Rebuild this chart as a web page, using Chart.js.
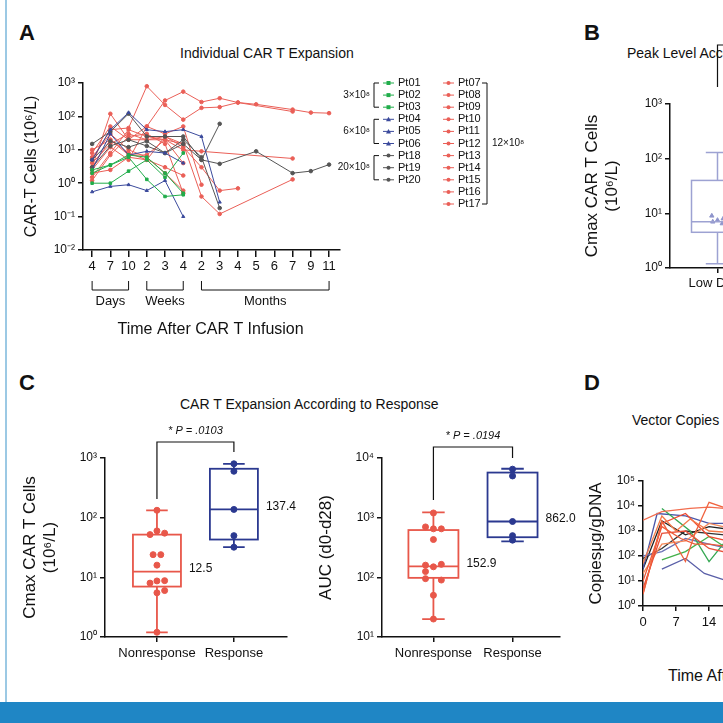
<!DOCTYPE html>
<html><head><meta charset="utf-8">
<script src="https://cdn.jsdelivr.net/npm/chart.js@4.4.0/dist/chart.umd.min.js"></script>
<style>
body{margin:0;width:723px;height:723px;overflow:hidden;background:#fff;position:relative;font-family:"Liberation Sans",Arial,sans-serif}
canvas{position:absolute}
.t{position:absolute;white-space:nowrap;color:#111}
.L{font-weight:bold;font-size:22px}
</style></head><body>
<div style="position:absolute;left:5px;top:0;width:2px;height:702px;background:#9cc9e4"></div>
<div style="position:absolute;left:0;top:702px;width:723px;height:21px;background:#1f86c5"></div>
<div class="t L" style="left:19px;top:20px">A</div>
<div class="t L" style="left:584px;top:20px">B</div>
<div class="t L" style="left:19px;top:370px">C</div>
<div class="t L" style="left:584px;top:370px">D</div>
<div class="t" style="left:180px;top:45px;font-size:14px">Individual CAR T Expansion</div>
<div class="t" style="left:627px;top:45px;font-size:14px">Peak Level According to Dose</div>
<div class="t" style="left:180px;top:396px;font-size:14px">CAR T Expansion According to Response</div>
<div class="t" style="left:632px;top:412px;font-size:14px">Vector Copies Over Time</div>
<div class="t" style="left:668px;top:667px;font-size:16px">Time After CAR T Infusion (days)</div>
<canvas id="a" style="left:0;top:60px" width="560" height="290"></canvas>
<canvas id="b" style="left:560px;top:40px" width="400" height="260"></canvas>
<canvas id="d" style="left:560px;top:460px" width="300" height="240"></canvas>
<canvas id="c1" style="left:0;top:410px" width="330" height="280"></canvas>
<canvas id="c2" style="left:300px;top:410px" width="300" height="280"></canvas>
<script>
// ---------- DATA ----------
const timeLabels=['4','7','10','2','3','4','2','3','4','5','6','7','9','11'];
const ptNames=['Pt01','Pt02','Pt03','Pt04','Pt05','Pt06','Pt18','Pt19','Pt20','Pt07','Pt08','Pt09','Pt10','Pt11','Pt12','Pt13','Pt14','Pt15','Pt16','Pt17'];
const ptGroup=['g','g','g','b','b','b','k','k','k','r','r','r','r','r','r','r','r','r','r','r'];
const N=null;
const ptValues=[
[2.5,3.5,7,6,2,0.5],
[1,1,2.3,5,1.5,8],
[2,3.5,6,1.3,0.4,0.45],
[0.55,0.8,0.9,0.6,1.2,0.1],
[5,40,130,40,35,40,25,0.27],
[2.5,30,7,9,8,4],
[15,35,120,25,25,25,5,3.8,N,9,N,2,2.3,3.6],
[5,18,12,18,8,20,6,0.18],
[3,13,20,13,8,15,5,60],
[5,40,45,800,220,80,180,190,260,230,N,160,130,125],
[8,50,20,50,300,550,270,350,260,N,N,140],
[3,120,20,20,25,12,3,0.6,0.7],
[1.5,8,40,25,20,15,0.4,0.12,N,N,N,1.3],
[6,30,10,6,2,0.6],
[2,2.5,6,5,3,1.7],
[4,15,30,20,20,10,9,N,N,N,N,5.5],
[10,20,7,7,20,4],
[1.2,7,25,30,15,0.5],
[3,20,8,5,25,15],
[2.5,12,5,50,30,50,0.9]
];
const respCats=['Nonresponse','Response'];
const cmaxNon=[52,60,55,24,24,16,8,8.7,8.8,5.5,6,133,1.2];
const cmaxNonJit=[-0.09,0,0.1,-0.05,0.05,0,-0.09,0,0.1,0,0.1,0,0];
const cmaxResp=[800,600,137.4,50,32];
const cmaxBox=[[1.2,7,12.5,52,133],[32,43,137.4,660,800]];
const aucNon=[700,650,650,430,160,150,165,125,95,90,50,1200,20];
const aucNonJit=[-0.1,0,0.1,0,-0.1,0,0.1,-0.1,-0.1,0.1,0,0,0];
const aucResp=[6500,5000,862,500,420];
const aucBox=[[20,98,152.9,620,1230],[400,470,862,5700,6600]];
const pLabels=['* P = .0103','* P = .0194'];
const medLabels1=['12.5','137.4'];
const medLabels2=['152.9','862.0'];
const doseCats=['Low Dose','High Dose'];
const doseBox=[[1.2,4.5,7,40,130],[20,100,300,800,1200]];
const dosePts=[9,8,7.5,7,6.5];
const dCurves=[
{c:'#f0623e',p:[[0,3],[4,2500],[9,60],[11,800],[14,14000],[21,5000]]},
{c:'#f26d4f',p:[[0,2700],[4,6000],[10,8000],[14,9000],[21,7000]]},
{c:'#ee5a3a',p:[[0,10],[4,1500],[8,500],[11,300],[14,300],[21,200]]},
{c:'#f47b4a',p:[[0,50],[4,4000],[7,1000],[10,3000],[14,1000],[21,800]]},
{c:'#e8503a',p:[[0,5],[4,800],[9,1000],[14,200],[21,100]]},
{c:'#f58a5a',p:[[0,20],[4,300],[9,400],[14,2000],[21,1000]]},
{c:'#ef4a30',p:[[0,3],[4,2000],[9,5000],[14,600],[21,300]]},
{c:'#35a853',p:[[4,8000],[10,1000],[14,60],[17,300],[21,100]]},
{c:'#43b04a',p:[[4,70],[9,150],[14,600],[21,80]]},
{c:'#5a5fa8',p:[[4,30],[9,80],[13,20],[18,10],[21,8]]},
{c:'#4a56a8',p:[[0,30],[3,5000],[9,4000],[14,2000],[21,2000]]},
{c:'#6a70b5',p:[[0,100],[4,150],[9,500],[14,300],[21,150]]},
{c:'#222222',p:[[0,30],[4,2500],[9,700],[14,1500],[21,1000]]},
{c:'#333333',p:[[0,80],[4,200],[9,1000],[14,800],[21,600]]}
];
// ---------- HELPERS ----------
const SUP={'0':'⁰','1':'¹','2':'²','3':'³','4':'⁴','5':'⁵','6':'⁶','7':'⁷','8':'⁸','9':'⁹','-':'⁻'};
const pow=v=>{const e=Math.round(Math.log10(v));return '10'+String(e).split('').map(c=>SUP[c]).join('');};
const F='"Liberation Sans", Arial, sans-serif';
Chart.defaults.font.family=F;Chart.defaults.color='#111';
Chart.defaults.animation=false;
const COL={g:'#21ad4b',b:'#3b4a9c',k:'#555',r:'#ea5f57'};
function logY(min,max,w,title,tsize){
 const t=[];for(let e=Math.round(Math.log10(min));e<=Math.round(Math.log10(max));e++)t.push(Math.pow(10,e));
 return {type:'logarithmic',min,max,afterBuildTicks:s=>{s.ticks=t.map(v=>({value:v}));},afterFit:s=>{s.width=w;},
  ticks:{callback:v=>pow(v),font:{size:12},padding:3,autoSkip:false},
  grid:{drawOnChartArea:false,tickLength:5,color:'#111',lineWidth:1.5},border:{color:'#111',width:1.5},
  title:{display:true,text:title,font:{size:tsize},padding:2}};
}
function txt(ctx,s,x,y,size,align,bold){ctx.save();ctx.fillStyle='#111';ctx.font=(bold?'bold ':'')+size+'px '+F;ctx.textAlign=align||'left';ctx.textBaseline='middle';ctx.fillText(s,x,y);ctx.restore();}
const boxPlugin={id:'box',afterDatasetsDraw(ch,a,o){
 const {ctx,scales:{x,y}}=ch;(o.boxes||[]).forEach((b,i)=>{const cx=x.getPixelForValue(i),hw=o.hw;
 const Y=v=>y.getPixelForValue(v);ctx.save();ctx.strokeStyle=o.colors[i];ctx.lineWidth=o.lw;
 ctx.strokeRect(cx-hw,Y(b[3]),2*hw,Y(b[1])-Y(b[3]));
 ctx.beginPath();ctx.moveTo(cx-hw,Y(b[2]));ctx.lineTo(cx+hw,Y(b[2]));
 ctx.moveTo(cx,Y(b[3]));ctx.lineTo(cx,Y(b[4]));ctx.moveTo(cx,Y(b[1]));ctx.lineTo(cx,Y(b[0]));
 ctx.moveTo(cx-hw*0.45,Y(b[4]));ctx.lineTo(cx+hw*0.45,Y(b[4]));ctx.moveTo(cx-hw*0.45,Y(b[0]));ctx.lineTo(cx+hw*0.45,Y(b[0]));ctx.stroke();ctx.restore();
 if(o.med)txt(ctx,o.med[i],cx+hw+8,Y(b[2])-3,12,'left');});
 if(o.bracket){const br=o.bracket;const x0=x.getPixelForValue(0),x1=x.getPixelForValue(1);
 ctx.save();ctx.strokeStyle='#111';ctx.lineWidth=1.2;ctx.beginPath();
 ctx.moveTo(x0,br.y0);ctx.lineTo(x0,br.top);ctx.lineTo(x1,br.top);ctx.lineTo(x1,br.y1);ctx.stroke();ctx.restore();
 if(br.text){ctx.save();ctx.font='italic 11px '+F;ctx.fillStyle='#111';ctx.textAlign='center';ctx.fillText(br.text,(x0+x1)/2,br.top-8);ctx.restore();}}
}};
Chart.register(boxPlugin);
// ---------- A ----------
const aDatasets=ptValues.map((v,i)=>({label:ptNames[i],data:v.map((y,j)=>y==null?null:{x:j,y}).filter(p=>p),
 borderColor:COL[ptGroup[i]],backgroundColor:COL[ptGroup[i]],borderWidth:1,pointRadius:1.8,
 pointStyle:ptGroup[i]=='g'?'rect':ptGroup[i]=='b'?'triangle':'circle',showLine:true}));
const aPlug={id:'aExtra',afterDraw(ch){const c=ch.ctx,x=ch.scales.x;
 const X=i=>x.getPixelForValue(i);const yb=ch.chartArea.bottom;
 c.save();c.strokeStyle='#111';c.lineWidth=1;
 [[0,2,'Days'],[3,5,'Weeks'],[6,13,'Months']].forEach(g=>{c.beginPath();c.moveTo(X(g[0]),yb+31);c.lineTo(X(g[0]),yb+40);c.lineTo(X(g[1]),yb+40);c.lineTo(X(g[1]),yb+31);c.stroke();
  txt(c,g[2],(X(g[0])+X(g[1]))/2,yb+51,13,'center');});
 txt(c,'Time After CAR T Infusion',(X(0)+X(13))/2,yb+80,16,'center');
 const rowH=12.1,top0=23;
 ptNames.forEach((n,i)=>{const left=i<9,col=left?0:1,row=left?i:i-9;const lx=col?443:383,ly=top0+row*rowH;
  c.strokeStyle=COL[ptGroup[i]];c.fillStyle=COL[ptGroup[i]];c.beginPath();c.moveTo(lx,ly);c.lineTo(lx+11,ly);c.stroke();
  c.beginPath();if(ptGroup[i]=='g')c.rect(lx+3.5,ly-2,4,4);else if(ptGroup[i]=='b'){c.moveTo(lx+5.5,ly-2.5);c.lineTo(lx+8,ly+2);c.lineTo(lx+3,ly+2);}else c.arc(lx+5.5,ly,2,0,7);c.fill();
  txt(c,n,lx+15,ly,11,'left');});
 c.strokeStyle='#111';
 [[0,2,'3×10⁸'],[3,5,'6×10⁸'],[6,8,'20×10⁸']].forEach(g=>{const y0=top0+g[0]*rowH,y1=top0+g[1]*rowH;c.beginPath();c.moveTo(379,y0);c.lineTo(374,y0);c.lineTo(374,y1);c.lineTo(379,y1);c.stroke();txt(c,g[2],370,(y0+y1)/2,10,'right');});
 const y0=top0,y1=top0+10*rowH;c.beginPath();c.moveTo(482,y0);c.lineTo(487,y0);c.lineTo(487,y1);c.lineTo(482,y1);c.stroke();txt(c,'12×10⁸',492,(y0+y1)/2,10,'left');
 c.restore();}};
new Chart(document.getElementById('a'),{type:'scatter',data:{datasets:aDatasets},plugins:[aPlug],
 options:{responsive:false,layout:{padding:{top:23,right:220,left:20,bottom:0}},plugins:{legend:{display:false},tooltip:{enabled:false}},
 scales:{x:{type:'linear',min:-0.5,max:13.6,afterBuildTicks:s=>{s.ticks=timeLabels.map((l,i)=>({value:i}));},afterFit:s=>{s.height=100;},
  ticks:{callback:(v)=>timeLabels[v],font:{size:13},padding:2,autoSkip:false,maxRotation:0},
  grid:{drawOnChartArea:false,tickLength:7,color:'#111',lineWidth:1.5},border:{color:'#111',width:1.5}},
 y:logY(0.01,1000,63,'CAR-T Cells (10⁶/L)',16)}}});
// ---------- B ----------
new Chart(document.getElementById('b'),{type:'scatter',
 data:{datasets:[{data:dosePts.map((y,i)=>({x:[-0.06,0.06,0,-0.05,0.05][i],y})),pointStyle:'triangle',pointRadius:2.5,backgroundColor:'#8f95cc',borderColor:'#8f95cc'}]},
 options:{responsive:false,layout:{padding:{top:64,right:0,left:20}},plugins:{legend:{display:false},tooltip:{enabled:false},
  box:{boxes:doseBox,colors:['#9da2d2','#5b62ad'],hw:26,lw:1.5,bracket:{y0:47,y1:47,top:5,text:''}}},
 scales:{x:{type:'linear',min:-0.5,max:2.5,afterBuildTicks:s=>{s.ticks=[{value:0},{value:1}];},afterFit:s=>{s.height=32;},
  ticks:{callback:v=>doseCats[v],font:{size:13}},grid:{drawOnChartArea:false,tickLength:5,color:'#111',lineWidth:1.5},border:{color:'#111',width:1.5}},
 y:logY(1,1000,90,['Cmax CAR T Cells','(10⁶/L)'],17)}}});
// ---------- C ----------
function cChart(id,boxes,non,nonJ,resp,min,max,padL,padR,w,xmin,xmax,title,med,br,hw){
 new Chart(document.getElementById(id),{type:'scatter',
 data:{datasets:[
  {data:non.map((y,i)=>({x:nonJ[i],y})),pointRadius:3,backgroundColor:'#e8574a',borderColor:'#e8574a'},
  {data:resp.map(y=>({x:1,y})),pointRadius:3,backgroundColor:'#2b3990',borderColor:'#2b3990'}]},
 options:{responsive:false,layout:{padding:{top:48,right:padR,left:padL}},plugins:{legend:{display:false},tooltip:{enabled:false},
  box:{boxes,colors:['#e8574a','#2b3990'],hw,lw:1.8,med,bracket:br}},
 scales:{x:{type:'linear',min:xmin,max:xmax,afterBuildTicks:s=>{s.ticks=[{value:0},{value:1}];},afterFit:s=>{s.height=53;},
  ticks:{callback:v=>respCats[v],font:{size:13},padding:4},grid:{drawOnChartArea:false,tickLength:5,color:'#111',lineWidth:1.5},border:{color:'#111',width:1.5}},
  y:logY(min,max,w,title,17)}}});
}
cChart('c1',cmaxBox,cmaxNon,cmaxNonJit,cmaxResp,1,1000,18,43,87,-0.675,1.69,['Cmax CAR T Cells','(10⁶/L)'],medLabels1,{y0:89,y1:42,top:32,text:pLabels[0]},24);
cChart('c2',aucBox,aucNon,aucNonJit,aucResp,10,10000,14,40,68,-0.65,1.6,'AUC (d0-d28)',medLabels2,{y0:90,y1:48,top:37,text:pLabels[1]},25);
// ---------- D ----------
new Chart(document.getElementById('d'),{type:'scatter',
 data:{datasets:dCurves.map(d=>({data:d.p.map(p=>({x:p[0],y:p[1]})),borderColor:d.c,borderWidth:1.3,pointRadius:0,showLine:true}))},
 options:{responsive:false,layout:{padding:{top:21,right:0,left:24}},plugins:{legend:{display:false},tooltip:{enabled:false}},
 scales:{x:{type:'linear',min:0,max:46,afterBuildTicks:s=>{s.ticks=[0,7,14,21,28,35,42].map(v=>({value:v}));},afterFit:s=>{s.height=94;},
  ticks:{font:{size:13},padding:4},grid:{drawOnChartArea:false,tickLength:5,color:'#111',lineWidth:1.5},border:{color:'#111',width:1.5}},
 y:logY(1,100000,59,'Copiesμg/gDNA',17)}}});
</script></body></html>
